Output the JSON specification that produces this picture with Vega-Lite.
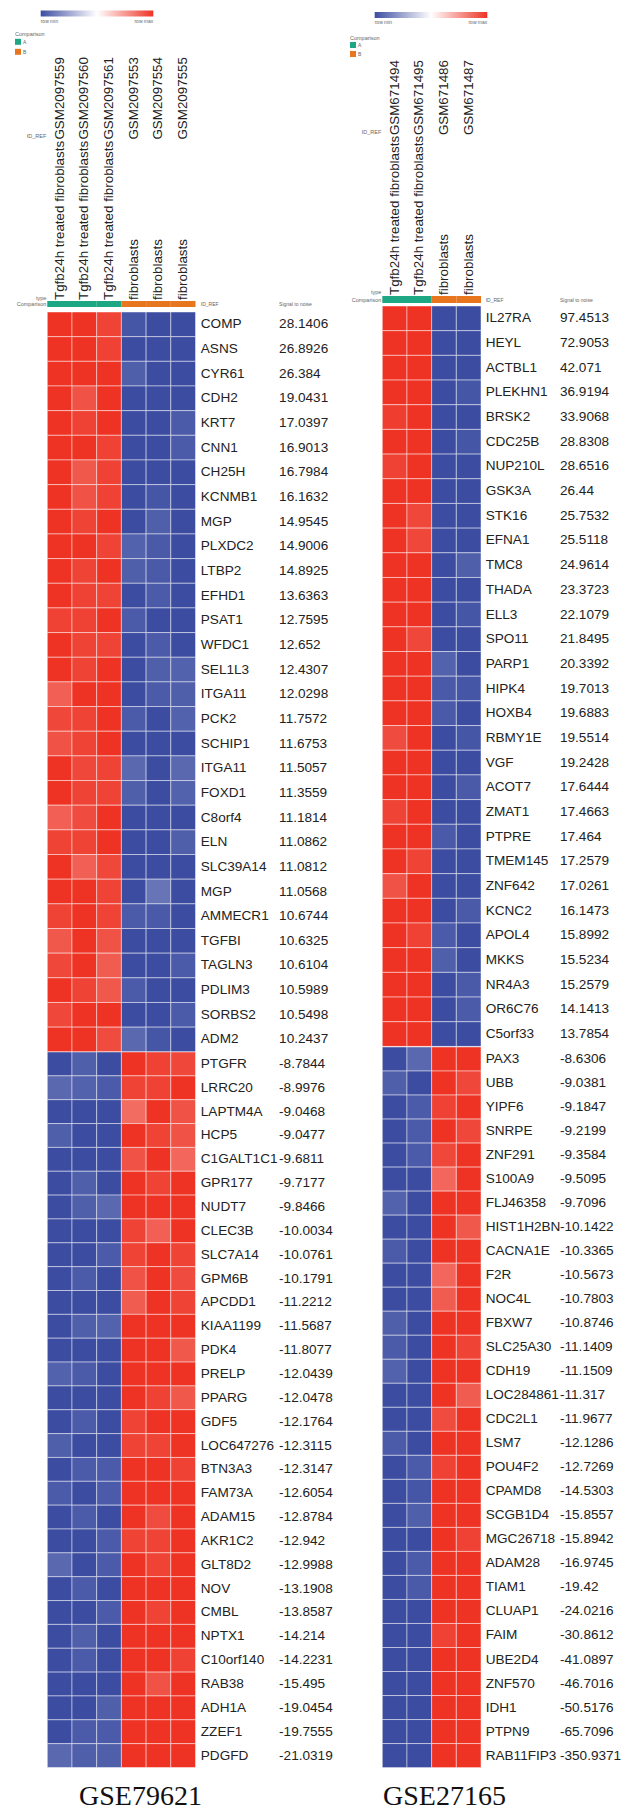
{
"$schema": "https://vega.github.io/schema/vega-lite/v6.json",
"background": "white",
"padding": {"left": 14.3, "top": 10, "right": 0, "bottom": 0},
"config": {"view": {"stroke": null}, "font": "Liberation Sans"},
"datasets": {
"lh": [
{"s":"GSM2097559","type":"Tgfb24h treated fibroblasts","grp":"A"},
{"s":"GSM2097560","type":"Tgfb24h treated fibroblasts","grp":"A"},
{"s":"GSM2097561","type":"Tgfb24h treated fibroblasts","grp":"A"},
{"s":"GSM2097553","type":"fibroblasts","grp":"B"},
{"s":"GSM2097554","type":"fibroblasts","grp":"B"},
{"s":"GSM2097555","type":"fibroblasts","grp":"B"}],
"rh": [
{"s":"GSM671494","type":"Tgfb24h treated fibroblasts","grp":"A"},
{"s":"GSM671495","type":"Tgfb24h treated fibroblasts","grp":"A"},
{"s":"GSM671486","type":"fibroblasts","grp":"B"},
{"s":"GSM671487","type":"fibroblasts","grp":"B"}],
"lg": [
{"r":1,"g":"COMP","sn":28.1406},{"r":2,"g":"ASNS","sn":26.8926},{"r":3,"g":"CYR61","sn":26.384},{"r":4,"g":"CDH2","sn":19.0431},{"r":5,"g":"KRT7","sn":17.0397},{"r":6,"g":"CNN1","sn":16.9013},{"r":7,"g":"CH25H","sn":16.7984},{"r":8,"g":"KCNMB1","sn":16.1632},{"r":9,"g":"MGP","sn":14.9545},{"r":10,"g":"PLXDC2","sn":14.9006},
{"r":11,"g":"LTBP2","sn":14.8925},{"r":12,"g":"EFHD1","sn":13.6363},{"r":13,"g":"PSAT1","sn":12.7595},{"r":14,"g":"WFDC1","sn":12.652},{"r":15,"g":"SEL1L3","sn":12.4307},{"r":16,"g":"ITGA11","sn":12.0298},{"r":17,"g":"PCK2","sn":11.7572},{"r":18,"g":"SCHIP1","sn":11.6753},{"r":19,"g":"ITGA11","sn":11.5057},{"r":20,"g":"FOXD1","sn":11.3559},
{"r":21,"g":"C8orf4","sn":11.1814},{"r":22,"g":"ELN","sn":11.0862},{"r":23,"g":"SLC39A14","sn":11.0812},{"r":24,"g":"MGP","sn":11.0568},{"r":25,"g":"AMMECR1","sn":10.6744},{"r":26,"g":"TGFBI","sn":10.6325},{"r":27,"g":"TAGLN3","sn":10.6104},{"r":28,"g":"PDLIM3","sn":10.5989},{"r":29,"g":"SORBS2","sn":10.5498},{"r":30,"g":"ADM2","sn":10.2437},
{"r":31,"g":"PTGFR","sn":-8.7844},{"r":32,"g":"LRRC20","sn":-8.9976},{"r":33,"g":"LAPTM4A","sn":-9.0468},{"r":34,"g":"HCP5","sn":-9.0477},{"r":35,"g":"C1GALT1C1","sn":-9.6811},{"r":36,"g":"GPR177","sn":-9.7177},{"r":37,"g":"NUDT7","sn":-9.8466},{"r":38,"g":"CLEC3B","sn":-10.0034},{"r":39,"g":"SLC7A14","sn":-10.0761},{"r":40,"g":"GPM6B","sn":-10.1791},
{"r":41,"g":"APCDD1","sn":-11.2212},{"r":42,"g":"KIAA1199","sn":-11.5687},{"r":43,"g":"PDK4","sn":-11.8077},{"r":44,"g":"PRELP","sn":-12.0439},{"r":45,"g":"PPARG","sn":-12.0478},{"r":46,"g":"GDF5","sn":-12.1764},{"r":47,"g":"LOC647276","sn":-12.3115},{"r":48,"g":"BTN3A3","sn":-12.3147},{"r":49,"g":"FAM73A","sn":-12.6054},{"r":50,"g":"ADAM15","sn":-12.8784},
{"r":51,"g":"AKR1C2","sn":-12.942},{"r":52,"g":"GLT8D2","sn":-12.9988},{"r":53,"g":"NOV","sn":-13.1908},{"r":54,"g":"CMBL","sn":-13.8587},{"r":55,"g":"NPTX1","sn":-14.214},{"r":56,"g":"C10orf140","sn":-14.2231},{"r":57,"g":"RAB38","sn":-15.495},{"r":58,"g":"ADH1A","sn":-19.0454},{"r":59,"g":"ZZEF1","sn":-19.7555},{"r":60,"g":"PDGFD","sn":-21.0319}],
"rg": [
{"r":1,"g":"IL27RA","sn":97.4513},{"r":2,"g":"HEYL","sn":72.9053},{"r":3,"g":"ACTBL1","sn":42.071},{"r":4,"g":"PLEKHN1","sn":36.9194},{"r":5,"g":"BRSK2","sn":33.9068},{"r":6,"g":"CDC25B","sn":28.8308},{"r":7,"g":"NUP210L","sn":28.6516},{"r":8,"g":"GSK3A","sn":26.44},{"r":9,"g":"STK16","sn":25.7532},{"r":10,"g":"EFNA1","sn":25.5118},
{"r":11,"g":"TMC8","sn":24.9614},{"r":12,"g":"THADA","sn":23.3723},{"r":13,"g":"ELL3","sn":22.1079},{"r":14,"g":"SPO11","sn":21.8495},{"r":15,"g":"PARP1","sn":20.3392},{"r":16,"g":"HIPK4","sn":19.7013},{"r":17,"g":"HOXB4","sn":19.6883},{"r":18,"g":"RBMY1E","sn":19.5514},{"r":19,"g":"VGF","sn":19.2428},{"r":20,"g":"ACOT7","sn":17.6444},
{"r":21,"g":"ZMAT1","sn":17.4663},{"r":22,"g":"PTPRE","sn":17.464},{"r":23,"g":"TMEM145","sn":17.2579},{"r":24,"g":"ZNF642","sn":17.0261},{"r":25,"g":"KCNC2","sn":16.1473},{"r":26,"g":"APOL4","sn":15.8992},{"r":27,"g":"MKKS","sn":15.5234},{"r":28,"g":"NR4A3","sn":15.2579},{"r":29,"g":"OR6C76","sn":14.1413},{"r":30,"g":"C5orf33","sn":13.7854},
{"r":31,"g":"PAX3","sn":-8.6306},{"r":32,"g":"UBB","sn":-9.0381},{"r":33,"g":"YIPF6","sn":-9.1847},{"r":34,"g":"SNRPE","sn":-9.2199},{"r":35,"g":"ZNF291","sn":-9.3584},{"r":36,"g":"S100A9","sn":-9.5095},{"r":37,"g":"FLJ46358","sn":-9.7096},{"r":38,"g":"HIST1H2BN","sn":-10.1422},{"r":39,"g":"CACNA1E","sn":-10.3365},{"r":40,"g":"F2R","sn":-10.5673},
{"r":41,"g":"NOC4L","sn":-10.7803},{"r":42,"g":"FBXW7","sn":-10.8746},{"r":43,"g":"SLC25A30","sn":-11.1409},{"r":44,"g":"CDH19","sn":-11.1509},{"r":45,"g":"LOC284861","sn":-11.317},{"r":46,"g":"CDC2L1","sn":-11.9677},{"r":47,"g":"LSM7","sn":-12.1286},{"r":48,"g":"POU4F2","sn":-12.7269},{"r":49,"g":"CPAMD8","sn":-14.5303},{"r":50,"g":"SCGB1D4","sn":-15.8557},
{"r":51,"g":"MGC26718","sn":-15.8942},{"r":52,"g":"ADAM28","sn":-16.9745},{"r":53,"g":"TIAM1","sn":-19.42},{"r":54,"g":"CLUAP1","sn":-24.0216},{"r":55,"g":"FAIM","sn":-30.8612},{"r":56,"g":"UBE2D4","sn":-41.0897},{"r":57,"g":"ZNF570","sn":-46.7016},{"r":58,"g":"IDH1","sn":-50.5176},{"r":59,"g":"PTPN9","sn":-65.7096},{"r":60,"g":"RAB11FIP3","sn":-350.9371}],
"lc": [
{"r":1,"s":"GSM2097559","v":1},{"r":1,"s":"GSM2097560","v":1},{"r":1,"s":"GSM2097561","v":0.92},{"r":1,"s":"GSM2097553","v":-0.95},{"r":1,"s":"GSM2097554","v":-1},{"r":1,"s":"GSM2097555","v":-1},
{"r":2,"s":"GSM2097559","v":1},{"r":2,"s":"GSM2097560","v":1},{"r":2,"s":"GSM2097561","v":0.93},{"r":2,"s":"GSM2097553","v":-1},{"r":2,"s":"GSM2097554","v":-1},{"r":2,"s":"GSM2097555","v":-1},
{"r":3,"s":"GSM2097559","v":1},{"r":3,"s":"GSM2097560","v":1},{"r":3,"s":"GSM2097561","v":1},{"r":3,"s":"GSM2097553","v":-0.9},{"r":3,"s":"GSM2097554","v":-1},{"r":3,"s":"GSM2097555","v":-1},
{"r":4,"s":"GSM2097559","v":1},{"r":4,"s":"GSM2097560","v":0.85},{"r":4,"s":"GSM2097561","v":1},{"r":4,"s":"GSM2097553","v":-1},{"r":4,"s":"GSM2097554","v":-1},{"r":4,"s":"GSM2097555","v":-1},
{"r":5,"s":"GSM2097559","v":1},{"r":5,"s":"GSM2097560","v":0.93},{"r":5,"s":"GSM2097561","v":1},{"r":5,"s":"GSM2097553","v":-1},{"r":5,"s":"GSM2097554","v":-1},{"r":5,"s":"GSM2097555","v":-0.92},
{"r":6,"s":"GSM2097559","v":1},{"r":6,"s":"GSM2097560","v":1},{"r":6,"s":"GSM2097561","v":0.93},{"r":6,"s":"GSM2097553","v":-1},{"r":6,"s":"GSM2097554","v":-1},{"r":6,"s":"GSM2097555","v":-0.92},
{"r":7,"s":"GSM2097559","v":1},{"r":7,"s":"GSM2097560","v":0.82},{"r":7,"s":"GSM2097561","v":0.93},{"r":7,"s":"GSM2097553","v":-1},{"r":7,"s":"GSM2097554","v":-1},{"r":7,"s":"GSM2097555","v":-1},
{"r":8,"s":"GSM2097559","v":1},{"r":8,"s":"GSM2097560","v":0.85},{"r":8,"s":"GSM2097561","v":0.93},{"r":8,"s":"GSM2097553","v":-1},{"r":8,"s":"GSM2097554","v":-0.95},{"r":8,"s":"GSM2097555","v":-1},
{"r":9,"s":"GSM2097559","v":1},{"r":9,"s":"GSM2097560","v":0.92},{"r":9,"s":"GSM2097561","v":1},{"r":9,"s":"GSM2097553","v":-1},{"r":9,"s":"GSM2097554","v":-0.9},{"r":9,"s":"GSM2097555","v":-1},
{"r":10,"s":"GSM2097559","v":1},{"r":10,"s":"GSM2097560","v":1},{"r":10,"s":"GSM2097561","v":0.92},{"r":10,"s":"GSM2097553","v":-0.88},{"r":10,"s":"GSM2097554","v":-0.93},{"r":10,"s":"GSM2097555","v":-1},
{"r":11,"s":"GSM2097559","v":1},{"r":11,"s":"GSM2097560","v":0.92},{"r":11,"s":"GSM2097561","v":1},{"r":11,"s":"GSM2097553","v":-0.9},{"r":11,"s":"GSM2097554","v":-0.93},{"r":11,"s":"GSM2097555","v":-1},
{"r":12,"s":"GSM2097559","v":1},{"r":12,"s":"GSM2097560","v":0.93},{"r":12,"s":"GSM2097561","v":0.92},{"r":12,"s":"GSM2097553","v":-1},{"r":12,"s":"GSM2097554","v":-0.92},{"r":12,"s":"GSM2097555","v":-1},
{"r":13,"s":"GSM2097559","v":0.93},{"r":13,"s":"GSM2097560","v":0.93},{"r":13,"s":"GSM2097561","v":1},{"r":13,"s":"GSM2097553","v":-0.92},{"r":13,"s":"GSM2097554","v":-1},{"r":13,"s":"GSM2097555","v":-1},
{"r":14,"s":"GSM2097559","v":1},{"r":14,"s":"GSM2097560","v":0.92},{"r":14,"s":"GSM2097561","v":0.92},{"r":14,"s":"GSM2097553","v":-1},{"r":14,"s":"GSM2097554","v":-0.92},{"r":14,"s":"GSM2097555","v":-1},
{"r":15,"s":"GSM2097559","v":1},{"r":15,"s":"GSM2097560","v":0.92},{"r":15,"s":"GSM2097561","v":1},{"r":15,"s":"GSM2097553","v":-1},{"r":15,"s":"GSM2097554","v":-0.9},{"r":15,"s":"GSM2097555","v":-0.88},
{"r":16,"s":"GSM2097559","v":0.78},{"r":16,"s":"GSM2097560","v":1},{"r":16,"s":"GSM2097561","v":1},{"r":16,"s":"GSM2097553","v":-1},{"r":16,"s":"GSM2097554","v":-0.92},{"r":16,"s":"GSM2097555","v":-0.9},
{"r":17,"s":"GSM2097559","v":0.9},{"r":17,"s":"GSM2097560","v":0.92},{"r":17,"s":"GSM2097561","v":1},{"r":17,"s":"GSM2097553","v":-0.92},{"r":17,"s":"GSM2097554","v":-1},{"r":17,"s":"GSM2097555","v":-0.88},
{"r":18,"s":"GSM2097559","v":0.85},{"r":18,"s":"GSM2097560","v":0.92},{"r":18,"s":"GSM2097561","v":1},{"r":18,"s":"GSM2097553","v":-1},{"r":18,"s":"GSM2097554","v":-1},{"r":18,"s":"GSM2097555","v":-1},
{"r":19,"s":"GSM2097559","v":1},{"r":19,"s":"GSM2097560","v":0.9},{"r":19,"s":"GSM2097561","v":0.92},{"r":19,"s":"GSM2097553","v":-0.85},{"r":19,"s":"GSM2097554","v":-1},{"r":19,"s":"GSM2097555","v":-0.85},
{"r":20,"s":"GSM2097559","v":1},{"r":20,"s":"GSM2097560","v":0.92},{"r":20,"s":"GSM2097561","v":0.92},{"r":20,"s":"GSM2097553","v":-0.9},{"r":20,"s":"GSM2097554","v":-1},{"r":20,"s":"GSM2097555","v":-0.88},
{"r":21,"s":"GSM2097559","v":0.78},{"r":21,"s":"GSM2097560","v":0.88},{"r":21,"s":"GSM2097561","v":1},{"r":21,"s":"GSM2097553","v":-1},{"r":21,"s":"GSM2097554","v":-1},{"r":21,"s":"GSM2097555","v":-1},
{"r":22,"s":"GSM2097559","v":0.92},{"r":22,"s":"GSM2097560","v":0.92},{"r":22,"s":"GSM2097561","v":1},{"r":22,"s":"GSM2097553","v":-1},{"r":22,"s":"GSM2097554","v":-1},{"r":22,"s":"GSM2097555","v":-0.9},
{"r":23,"s":"GSM2097559","v":1},{"r":23,"s":"GSM2097560","v":0.78},{"r":23,"s":"GSM2097561","v":0.9},{"r":23,"s":"GSM2097553","v":-1},{"r":23,"s":"GSM2097554","v":-1},{"r":23,"s":"GSM2097555","v":-1},
{"r":24,"s":"GSM2097559","v":1},{"r":24,"s":"GSM2097560","v":1},{"r":24,"s":"GSM2097561","v":0.92},{"r":24,"s":"GSM2097553","v":-1},{"r":24,"s":"GSM2097554","v":-0.78},{"r":24,"s":"GSM2097555","v":-1},
{"r":25,"s":"GSM2097559","v":0.92},{"r":25,"s":"GSM2097560","v":1},{"r":25,"s":"GSM2097561","v":0.92},{"r":25,"s":"GSM2097553","v":-0.92},{"r":25,"s":"GSM2097554","v":-0.93},{"r":25,"s":"GSM2097555","v":-1},
{"r":26,"s":"GSM2097559","v":0.82},{"r":26,"s":"GSM2097560","v":1},{"r":26,"s":"GSM2097561","v":0.85},{"r":26,"s":"GSM2097553","v":-1},{"r":26,"s":"GSM2097554","v":-1},{"r":26,"s":"GSM2097555","v":-1},
{"r":27,"s":"GSM2097559","v":0.9},{"r":27,"s":"GSM2097560","v":1},{"r":27,"s":"GSM2097561","v":0.8},{"r":27,"s":"GSM2097553","v":-1},{"r":27,"s":"GSM2097554","v":-1},{"r":27,"s":"GSM2097555","v":-0.92},
{"r":28,"s":"GSM2097559","v":1},{"r":28,"s":"GSM2097560","v":0.92},{"r":28,"s":"GSM2097561","v":0.82},{"r":28,"s":"GSM2097553","v":-0.92},{"r":28,"s":"GSM2097554","v":-1},{"r":28,"s":"GSM2097555","v":-1},
{"r":29,"s":"GSM2097559","v":0.9},{"r":29,"s":"GSM2097560","v":1},{"r":29,"s":"GSM2097561","v":1},{"r":29,"s":"GSM2097553","v":-1},{"r":29,"s":"GSM2097554","v":-1},{"r":29,"s":"GSM2097555","v":-0.92},
{"r":30,"s":"GSM2097559","v":1},{"r":30,"s":"GSM2097560","v":1},{"r":30,"s":"GSM2097561","v":0.88},{"r":30,"s":"GSM2097553","v":-0.85},{"r":30,"s":"GSM2097554","v":-0.95},{"r":30,"s":"GSM2097555","v":-1},
{"r":31,"s":"GSM2097559","v":-1},{"r":31,"s":"GSM2097560","v":-0.9},{"r":31,"s":"GSM2097561","v":-1},{"r":31,"s":"GSM2097553","v":1},{"r":31,"s":"GSM2097554","v":0.93},{"r":31,"s":"GSM2097555","v":0.9},
{"r":32,"s":"GSM2097559","v":-0.85},{"r":32,"s":"GSM2097560","v":-0.88},{"r":32,"s":"GSM2097561","v":-0.92},{"r":32,"s":"GSM2097553","v":0.92},{"r":32,"s":"GSM2097554","v":0.93},{"r":32,"s":"GSM2097555","v":1},
{"r":33,"s":"GSM2097559","v":-1},{"r":33,"s":"GSM2097560","v":-1},{"r":33,"s":"GSM2097561","v":-1},{"r":33,"s":"GSM2097553","v":0.72},{"r":33,"s":"GSM2097554","v":1},{"r":33,"s":"GSM2097555","v":0.85},
{"r":34,"s":"GSM2097559","v":-0.9},{"r":34,"s":"GSM2097560","v":-1},{"r":34,"s":"GSM2097561","v":-1},{"r":34,"s":"GSM2097553","v":1},{"r":34,"s":"GSM2097554","v":0.92},{"r":34,"s":"GSM2097555","v":0.85},
{"r":35,"s":"GSM2097559","v":-1},{"r":35,"s":"GSM2097560","v":-1},{"r":35,"s":"GSM2097561","v":-1},{"r":35,"s":"GSM2097553","v":0.85},{"r":35,"s":"GSM2097554","v":1},{"r":35,"s":"GSM2097555","v":0.75},
{"r":36,"s":"GSM2097559","v":-1},{"r":36,"s":"GSM2097560","v":-0.9},{"r":36,"s":"GSM2097561","v":-1},{"r":36,"s":"GSM2097553","v":1},{"r":36,"s":"GSM2097554","v":0.92},{"r":36,"s":"GSM2097555","v":1},
{"r":37,"s":"GSM2097559","v":-1},{"r":37,"s":"GSM2097560","v":-0.9},{"r":37,"s":"GSM2097561","v":-0.85},{"r":37,"s":"GSM2097553","v":1},{"r":37,"s":"GSM2097554","v":1},{"r":37,"s":"GSM2097555","v":1},
{"r":38,"s":"GSM2097559","v":-1},{"r":38,"s":"GSM2097560","v":-1},{"r":38,"s":"GSM2097561","v":-1},{"r":38,"s":"GSM2097553","v":0.92},{"r":38,"s":"GSM2097554","v":0.78},{"r":38,"s":"GSM2097555","v":1},
{"r":39,"s":"GSM2097559","v":-1},{"r":39,"s":"GSM2097560","v":-1},{"r":39,"s":"GSM2097561","v":-0.92},{"r":39,"s":"GSM2097553","v":0.92},{"r":39,"s":"GSM2097554","v":1},{"r":39,"s":"GSM2097555","v":0.92},
{"r":40,"s":"GSM2097559","v":-1},{"r":40,"s":"GSM2097560","v":-0.92},{"r":40,"s":"GSM2097561","v":-1},{"r":40,"s":"GSM2097553","v":0.85},{"r":40,"s":"GSM2097554","v":1},{"r":40,"s":"GSM2097555","v":0.88},
{"r":41,"s":"GSM2097559","v":-1},{"r":41,"s":"GSM2097560","v":-1},{"r":41,"s":"GSM2097561","v":-1},{"r":41,"s":"GSM2097553","v":0.8},{"r":41,"s":"GSM2097554","v":1},{"r":41,"s":"GSM2097555","v":0.92},
{"r":42,"s":"GSM2097559","v":-1},{"r":42,"s":"GSM2097560","v":-0.9},{"r":42,"s":"GSM2097561","v":-0.88},{"r":42,"s":"GSM2097553","v":1},{"r":42,"s":"GSM2097554","v":1},{"r":42,"s":"GSM2097555","v":1},
{"r":43,"s":"GSM2097559","v":-1},{"r":43,"s":"GSM2097560","v":-1},{"r":43,"s":"GSM2097561","v":-1},{"r":43,"s":"GSM2097553","v":1},{"r":43,"s":"GSM2097554","v":1},{"r":43,"s":"GSM2097555","v":0.82},
{"r":44,"s":"GSM2097559","v":-0.88},{"r":44,"s":"GSM2097560","v":-0.92},{"r":44,"s":"GSM2097561","v":-1},{"r":44,"s":"GSM2097553","v":1},{"r":44,"s":"GSM2097554","v":1},{"r":44,"s":"GSM2097555","v":1},
{"r":45,"s":"GSM2097559","v":-1},{"r":45,"s":"GSM2097560","v":-1},{"r":45,"s":"GSM2097561","v":-1},{"r":45,"s":"GSM2097553","v":1},{"r":45,"s":"GSM2097554","v":0.93},{"r":45,"s":"GSM2097555","v":0.82},
{"r":46,"s":"GSM2097559","v":-1},{"r":46,"s":"GSM2097560","v":-0.92},{"r":46,"s":"GSM2097561","v":-1},{"r":46,"s":"GSM2097553","v":0.92},{"r":46,"s":"GSM2097554","v":1},{"r":46,"s":"GSM2097555","v":1},
{"r":47,"s":"GSM2097559","v":-0.9},{"r":47,"s":"GSM2097560","v":-1},{"r":47,"s":"GSM2097561","v":-1},{"r":47,"s":"GSM2097553","v":0.92},{"r":47,"s":"GSM2097554","v":0.92},{"r":47,"s":"GSM2097555","v":1},
{"r":48,"s":"GSM2097559","v":-1},{"r":48,"s":"GSM2097560","v":-0.92},{"r":48,"s":"GSM2097561","v":-0.92},{"r":48,"s":"GSM2097553","v":1},{"r":48,"s":"GSM2097554","v":1},{"r":48,"s":"GSM2097555","v":0.93},
{"r":49,"s":"GSM2097559","v":-0.92},{"r":49,"s":"GSM2097560","v":-1},{"r":49,"s":"GSM2097561","v":-0.92},{"r":49,"s":"GSM2097553","v":1},{"r":49,"s":"GSM2097554","v":1},{"r":49,"s":"GSM2097555","v":1},
{"r":50,"s":"GSM2097559","v":-1},{"r":50,"s":"GSM2097560","v":-0.92},{"r":50,"s":"GSM2097561","v":-1},{"r":50,"s":"GSM2097553","v":1},{"r":50,"s":"GSM2097554","v":0.88},{"r":50,"s":"GSM2097555","v":1},
{"r":51,"s":"GSM2097559","v":-1},{"r":51,"s":"GSM2097560","v":-1},{"r":51,"s":"GSM2097561","v":-0.92},{"r":51,"s":"GSM2097553","v":0.92},{"r":51,"s":"GSM2097554","v":0.92},{"r":51,"s":"GSM2097555","v":1},
{"r":52,"s":"GSM2097559","v":-0.85},{"r":52,"s":"GSM2097560","v":-1},{"r":52,"s":"GSM2097561","v":-0.92},{"r":52,"s":"GSM2097553","v":1},{"r":52,"s":"GSM2097554","v":0.92},{"r":52,"s":"GSM2097555","v":1},
{"r":53,"s":"GSM2097559","v":-1},{"r":53,"s":"GSM2097560","v":-0.92},{"r":53,"s":"GSM2097561","v":-1},{"r":53,"s":"GSM2097553","v":1},{"r":53,"s":"GSM2097554","v":1},{"r":53,"s":"GSM2097555","v":1},
{"r":54,"s":"GSM2097559","v":-1},{"r":54,"s":"GSM2097560","v":-1},{"r":54,"s":"GSM2097561","v":-0.92},{"r":54,"s":"GSM2097553","v":1},{"r":54,"s":"GSM2097554","v":0.92},{"r":54,"s":"GSM2097555","v":1},
{"r":55,"s":"GSM2097559","v":-1},{"r":55,"s":"GSM2097560","v":-0.9},{"r":55,"s":"GSM2097561","v":-1},{"r":55,"s":"GSM2097553","v":1},{"r":55,"s":"GSM2097554","v":1},{"r":55,"s":"GSM2097555","v":1},
{"r":56,"s":"GSM2097559","v":-1},{"r":56,"s":"GSM2097560","v":-0.92},{"r":56,"s":"GSM2097561","v":-1},{"r":56,"s":"GSM2097553","v":1},{"r":56,"s":"GSM2097554","v":1},{"r":56,"s":"GSM2097555","v":0.93},
{"r":57,"s":"GSM2097559","v":-1},{"r":57,"s":"GSM2097560","v":-1},{"r":57,"s":"GSM2097561","v":-1},{"r":57,"s":"GSM2097553","v":1},{"r":57,"s":"GSM2097554","v":0.85},{"r":57,"s":"GSM2097555","v":1},
{"r":58,"s":"GSM2097559","v":-1},{"r":58,"s":"GSM2097560","v":-1},{"r":58,"s":"GSM2097561","v":-0.9},{"r":58,"s":"GSM2097553","v":1},{"r":58,"s":"GSM2097554","v":1},{"r":58,"s":"GSM2097555","v":1},
{"r":59,"s":"GSM2097559","v":-1},{"r":59,"s":"GSM2097560","v":-0.92},{"r":59,"s":"GSM2097561","v":-0.92},{"r":59,"s":"GSM2097553","v":1},{"r":59,"s":"GSM2097554","v":1},{"r":59,"s":"GSM2097555","v":1},
{"r":60,"s":"GSM2097559","v":-0.85},{"r":60,"s":"GSM2097560","v":-0.9},{"r":60,"s":"GSM2097561","v":-0.9},{"r":60,"s":"GSM2097553","v":1},{"r":60,"s":"GSM2097554","v":1},{"r":60,"s":"GSM2097555","v":1}],
"rc": [
{"r":1,"s":"GSM671494","v":1},{"r":1,"s":"GSM671495","v":1},{"r":1,"s":"GSM671486","v":-1},{"r":1,"s":"GSM671487","v":-1},
{"r":2,"s":"GSM671494","v":1},{"r":2,"s":"GSM671495","v":1},{"r":2,"s":"GSM671486","v":-1},{"r":2,"s":"GSM671487","v":-1},
{"r":3,"s":"GSM671494","v":1},{"r":3,"s":"GSM671495","v":1},{"r":3,"s":"GSM671486","v":-1},{"r":3,"s":"GSM671487","v":-1},
{"r":4,"s":"GSM671494","v":1},{"r":4,"s":"GSM671495","v":1},{"r":4,"s":"GSM671486","v":-1},{"r":4,"s":"GSM671487","v":-0.95},
{"r":5,"s":"GSM671494","v":0.95},{"r":5,"s":"GSM671495","v":1},{"r":5,"s":"GSM671486","v":-1},{"r":5,"s":"GSM671487","v":-1},
{"r":6,"s":"GSM671494","v":1},{"r":6,"s":"GSM671495","v":1},{"r":6,"s":"GSM671486","v":-1},{"r":6,"s":"GSM671487","v":-0.95},
{"r":7,"s":"GSM671494","v":0.93},{"r":7,"s":"GSM671495","v":1},{"r":7,"s":"GSM671486","v":-1},{"r":7,"s":"GSM671487","v":-1},
{"r":8,"s":"GSM671494","v":1},{"r":8,"s":"GSM671495","v":1},{"r":8,"s":"GSM671486","v":-1},{"r":8,"s":"GSM671487","v":-1},
{"r":9,"s":"GSM671494","v":1},{"r":9,"s":"GSM671495","v":0.9},{"r":9,"s":"GSM671486","v":-1},{"r":9,"s":"GSM671487","v":-1},
{"r":10,"s":"GSM671494","v":1},{"r":10,"s":"GSM671495","v":0.9},{"r":10,"s":"GSM671486","v":-1},{"r":10,"s":"GSM671487","v":-1},
{"r":11,"s":"GSM671494","v":1},{"r":11,"s":"GSM671495","v":1},{"r":11,"s":"GSM671486","v":-1},{"r":11,"s":"GSM671487","v":-0.9},
{"r":12,"s":"GSM671494","v":1},{"r":12,"s":"GSM671495","v":1},{"r":12,"s":"GSM671486","v":-1},{"r":12,"s":"GSM671487","v":-1},
{"r":13,"s":"GSM671494","v":1},{"r":13,"s":"GSM671495","v":1},{"r":13,"s":"GSM671486","v":-1},{"r":13,"s":"GSM671487","v":-0.95},
{"r":14,"s":"GSM671494","v":1},{"r":14,"s":"GSM671495","v":0.9},{"r":14,"s":"GSM671486","v":-1},{"r":14,"s":"GSM671487","v":-1},
{"r":15,"s":"GSM671494","v":1},{"r":15,"s":"GSM671495","v":1},{"r":15,"s":"GSM671486","v":-0.88},{"r":15,"s":"GSM671487","v":-1},
{"r":16,"s":"GSM671494","v":1},{"r":16,"s":"GSM671495","v":1},{"r":16,"s":"GSM671486","v":-0.93},{"r":16,"s":"GSM671487","v":-0.95},
{"r":17,"s":"GSM671494","v":1},{"r":17,"s":"GSM671495","v":1},{"r":17,"s":"GSM671486","v":-0.93},{"r":17,"s":"GSM671487","v":-1},
{"r":18,"s":"GSM671494","v":0.88},{"r":18,"s":"GSM671495","v":1},{"r":18,"s":"GSM671486","v":-1},{"r":18,"s":"GSM671487","v":-0.95},
{"r":19,"s":"GSM671494","v":1},{"r":19,"s":"GSM671495","v":1},{"r":19,"s":"GSM671486","v":-1},{"r":19,"s":"GSM671487","v":-1},
{"r":20,"s":"GSM671494","v":1},{"r":20,"s":"GSM671495","v":1},{"r":20,"s":"GSM671486","v":-1},{"r":20,"s":"GSM671487","v":-0.93},
{"r":21,"s":"GSM671494","v":0.92},{"r":21,"s":"GSM671495","v":1},{"r":21,"s":"GSM671486","v":-1},{"r":21,"s":"GSM671487","v":-1},
{"r":22,"s":"GSM671494","v":1},{"r":22,"s":"GSM671495","v":1},{"r":22,"s":"GSM671486","v":-0.93},{"r":22,"s":"GSM671487","v":-1},
{"r":23,"s":"GSM671494","v":1},{"r":23,"s":"GSM671495","v":0.92},{"r":23,"s":"GSM671486","v":-1},{"r":23,"s":"GSM671487","v":-1},
{"r":24,"s":"GSM671494","v":0.85},{"r":24,"s":"GSM671495","v":1},{"r":24,"s":"GSM671486","v":-1},{"r":24,"s":"GSM671487","v":-1},
{"r":25,"s":"GSM671494","v":1},{"r":25,"s":"GSM671495","v":1},{"r":25,"s":"GSM671486","v":-1},{"r":25,"s":"GSM671487","v":-0.93},
{"r":26,"s":"GSM671494","v":1},{"r":26,"s":"GSM671495","v":0.93},{"r":26,"s":"GSM671486","v":-0.92},{"r":26,"s":"GSM671487","v":-1},
{"r":27,"s":"GSM671494","v":1},{"r":27,"s":"GSM671495","v":1},{"r":27,"s":"GSM671486","v":-0.9},{"r":27,"s":"GSM671487","v":-1},
{"r":28,"s":"GSM671494","v":1},{"r":28,"s":"GSM671495","v":1},{"r":28,"s":"GSM671486","v":-1},{"r":28,"s":"GSM671487","v":-0.93},
{"r":29,"s":"GSM671494","v":1},{"r":29,"s":"GSM671495","v":1},{"r":29,"s":"GSM671486","v":-1},{"r":29,"s":"GSM671487","v":-0.92},
{"r":30,"s":"GSM671494","v":1},{"r":30,"s":"GSM671495","v":1},{"r":30,"s":"GSM671486","v":-1},{"r":30,"s":"GSM671487","v":-1},
{"r":31,"s":"GSM671494","v":-1},{"r":31,"s":"GSM671495","v":-0.85},{"r":31,"s":"GSM671486","v":1},{"r":31,"s":"GSM671487","v":1},
{"r":32,"s":"GSM671494","v":-0.9},{"r":32,"s":"GSM671495","v":-1},{"r":32,"s":"GSM671486","v":1},{"r":32,"s":"GSM671487","v":0.9},
{"r":33,"s":"GSM671494","v":-1},{"r":33,"s":"GSM671495","v":-0.92},{"r":33,"s":"GSM671486","v":0.93},{"r":33,"s":"GSM671487","v":1},
{"r":34,"s":"GSM671494","v":-1},{"r":34,"s":"GSM671495","v":-0.92},{"r":34,"s":"GSM671486","v":1},{"r":34,"s":"GSM671487","v":0.9},
{"r":35,"s":"GSM671494","v":-1},{"r":35,"s":"GSM671495","v":-0.92},{"r":35,"s":"GSM671486","v":0.9},{"r":35,"s":"GSM671487","v":1},
{"r":36,"s":"GSM671494","v":-1},{"r":36,"s":"GSM671495","v":-1},{"r":36,"s":"GSM671486","v":0.75},{"r":36,"s":"GSM671487","v":1},
{"r":37,"s":"GSM671494","v":-0.88},{"r":37,"s":"GSM671495","v":-1},{"r":37,"s":"GSM671486","v":1},{"r":37,"s":"GSM671487","v":1},
{"r":38,"s":"GSM671494","v":-1},{"r":38,"s":"GSM671495","v":-1},{"r":38,"s":"GSM671486","v":1},{"r":38,"s":"GSM671487","v":0.82},
{"r":39,"s":"GSM671494","v":-0.92},{"r":39,"s":"GSM671495","v":-1},{"r":39,"s":"GSM671486","v":1},{"r":39,"s":"GSM671487","v":1},
{"r":40,"s":"GSM671494","v":-1},{"r":40,"s":"GSM671495","v":-1},{"r":40,"s":"GSM671486","v":0.75},{"r":40,"s":"GSM671487","v":1},
{"r":41,"s":"GSM671494","v":-1},{"r":41,"s":"GSM671495","v":-1},{"r":41,"s":"GSM671486","v":0.8},{"r":41,"s":"GSM671487","v":1},
{"r":42,"s":"GSM671494","v":-0.9},{"r":42,"s":"GSM671495","v":-1},{"r":42,"s":"GSM671486","v":1},{"r":42,"s":"GSM671487","v":1},
{"r":43,"s":"GSM671494","v":-0.92},{"r":43,"s":"GSM671495","v":-1},{"r":43,"s":"GSM671486","v":1},{"r":43,"s":"GSM671487","v":0.92},
{"r":44,"s":"GSM671494","v":-0.88},{"r":44,"s":"GSM671495","v":-1},{"r":44,"s":"GSM671486","v":1},{"r":44,"s":"GSM671487","v":1},
{"r":45,"s":"GSM671494","v":-1},{"r":45,"s":"GSM671495","v":-1},{"r":45,"s":"GSM671486","v":1},{"r":45,"s":"GSM671487","v":0.8},
{"r":46,"s":"GSM671494","v":-1},{"r":46,"s":"GSM671495","v":-1},{"r":46,"s":"GSM671486","v":0.88},{"r":46,"s":"GSM671487","v":1},
{"r":47,"s":"GSM671494","v":-0.92},{"r":47,"s":"GSM671495","v":-1},{"r":47,"s":"GSM671486","v":1},{"r":47,"s":"GSM671487","v":1},
{"r":48,"s":"GSM671494","v":-1},{"r":48,"s":"GSM671495","v":-0.92},{"r":48,"s":"GSM671486","v":0.93},{"r":48,"s":"GSM671487","v":1},
{"r":49,"s":"GSM671494","v":-1},{"r":49,"s":"GSM671495","v":-0.95},{"r":49,"s":"GSM671486","v":1},{"r":49,"s":"GSM671487","v":1},
{"r":50,"s":"GSM671494","v":-1},{"r":50,"s":"GSM671495","v":-0.9},{"r":50,"s":"GSM671486","v":1},{"r":50,"s":"GSM671487","v":1},
{"r":51,"s":"GSM671494","v":-1},{"r":51,"s":"GSM671495","v":-1},{"r":51,"s":"GSM671486","v":1},{"r":51,"s":"GSM671487","v":0.93},
{"r":52,"s":"GSM671494","v":-1},{"r":52,"s":"GSM671495","v":-0.92},{"r":52,"s":"GSM671486","v":1},{"r":52,"s":"GSM671487","v":1},
{"r":53,"s":"GSM671494","v":-1},{"r":53,"s":"GSM671495","v":-0.93},{"r":53,"s":"GSM671486","v":1},{"r":53,"s":"GSM671487","v":1},
{"r":54,"s":"GSM671494","v":-1},{"r":54,"s":"GSM671495","v":-1},{"r":54,"s":"GSM671486","v":1},{"r":54,"s":"GSM671487","v":1},
{"r":55,"s":"GSM671494","v":-1},{"r":55,"s":"GSM671495","v":-1},{"r":55,"s":"GSM671486","v":0.93},{"r":55,"s":"GSM671487","v":1},
{"r":56,"s":"GSM671494","v":-1},{"r":56,"s":"GSM671495","v":-1},{"r":56,"s":"GSM671486","v":1},{"r":56,"s":"GSM671487","v":1},
{"r":57,"s":"GSM671494","v":-1},{"r":57,"s":"GSM671495","v":-1},{"r":57,"s":"GSM671486","v":1},{"r":57,"s":"GSM671487","v":1},
{"r":58,"s":"GSM671494","v":-1},{"r":58,"s":"GSM671495","v":-1},{"r":58,"s":"GSM671486","v":1},{"r":58,"s":"GSM671487","v":1},
{"r":59,"s":"GSM671494","v":-1},{"r":59,"s":"GSM671495","v":-1},{"r":59,"s":"GSM671486","v":1},{"r":59,"s":"GSM671487","v":1},
{"r":60,"s":"GSM671494","v":-1},{"r":60,"s":"GSM671495","v":-1},{"r":60,"s":"GSM671486","v":1},{"r":60,"s":"GSM671487","v":1}]
},
"hconcat": [
{
"vconcat": [
{
"width": 148.2, "height": 244,
"data": {"name": "lh"},
"encoding": {"x": {"field": "s", "type": "nominal", "scale": {"domain": ["GSM2097559","GSM2097560","GSM2097561","GSM2097553","GSM2097554","GSM2097555"], "paddingInner": 0, "paddingOuter": 0}, "axis": null}},
"layer": [
{"mark": {"type": "text", "angle": 270, "align": "right", "baseline": "middle", "fontSize": 13.4, "color": "#222"},
 "encoding": {"y": {"datum": 1, "type": "quantitative", "scale": {"domain": [0, 1], "nice": false, "zero": false}, "axis": {"title": null, "values": [0.68], "labelExpr": "'ID_REF'", "ticks": false, "domain": false, "grid": false, "labelFontSize": 5.5, "labelColor": "#666", "labelPadding": 1.5}}, "text": {"field": "s"}}},
{"mark": {"type": "text", "angle": 270, "align": "left", "baseline": "middle", "fontSize": 13.4, "color": "#222", "dx": 1},
 "encoding": {"y": {"datum": 0, "type": "quantitative"}, "text": {"field": "type"}}}
]
},
{
"width": 148.2, "height": 10.7,
"layer": [
{"data": {"name": "lh"}, "mark": {"type": "rect"},
 "encoding": {
  "x": {"field": "s", "type": "nominal", "scale": {"domain": ["GSM2097559","GSM2097560","GSM2097561","GSM2097553","GSM2097554","GSM2097555"], "paddingInner": 0, "paddingOuter": 0}, "axis": null},
  "y": {"datum": "Comparison", "type": "ordinal", "scale": {"domain": ["Comparison"], "paddingInner": 0, "paddingOuter": 0.3917, "align": 0}, "axis": {"title": "type", "titleAngle": 0, "titleAlign": "right", "titleBaseline": "bottom", "titleX": -1.5, "titleY": -1, "titleFontSize": 5.5, "titleFontWeight": "normal", "titleColor": "#666", "labelFontSize": 5.5, "labelColor": "#666", "labelPadding": 1.5, "ticks": false, "domain": false}},
  "fill": {"field": "grp", "type": "nominal", "scale": {"domain": ["A","B"], "range": ["#1DA783","#E8761F"]},
   "legend": {"orient": "none", "legendX": -32.3, "legendY": -268.7, "title": "Comparison", "titleFontSize": 5.5, "titleFontWeight": "normal", "titleColor": "#666", "titlePadding": 1, "labelFontSize": 5, "labelColor": "#666", "labelOffset": 2, "symbolType": "square", "symbolSize": 36, "symbolStrokeWidth": 0, "rowPadding": 4, "padding": 0}}
 }},
{"data": {"values": [{"t": "ID_REF"}]}, "mark": {"type": "text", "align": "left", "baseline": "middle", "dx": 5.3, "fontSize": 5, "color": "#666"},
 "encoding": {"x": {"value": "width"}, "y": {"datum": "Comparison", "type": "ordinal"}, "text": {"field": "t"}}},
{"data": {"values": [{"t": "Signal to noise"}]}, "mark": {"type": "text", "align": "left", "baseline": "middle", "dx": 83.6, "fontSize": 5, "color": "#666"},
 "encoding": {"x": {"value": "width"}, "y": {"datum": "Comparison", "type": "ordinal"}, "text": {"field": "t"}}}
]
},
{
"width": 148.2, "height": 739.8,
"layer": [
{"data": {"name": "lc"}, "transform": [{"filter": "datum.r <= 30"}],
 "mark": {"type": "rect", "stroke": "#ffffff", "strokeWidth": 1, "strokeOpacity": 0.45},
 "encoding": {
  "x": {"field": "s", "type": "nominal", "scale": {"domain": ["GSM2097559","GSM2097560","GSM2097561","GSM2097553","GSM2097554","GSM2097555"], "paddingInner": 0, "paddingOuter": 0}, "axis": null},
  "y": {"field": "r", "type": "ordinal", "scale": {"paddingInner": 0, "paddingOuter": 0}, "axis": null},
  "color": {"field": "v", "type": "quantitative", "scale": {"domain": [-1, 0, 1], "range": ["#3C4DA1", "#FFFFFF", "#EE3325"], "interpolate": "rgb"},
   "legend": {"orient": "none", "legendX": -6.6, "legendY": -301.4, "direction": "horizontal", "title": null, "gradientLength": 112.6, "gradientThickness": 6, "gradientStrokeWidth": 0, "values": [-1, 1], "labelExpr": "datum.value < 0 ? 'row min' : 'row max'", "labelFontSize": 5, "labelColor": "#666", "labelAlign": "center", "labelOffset": 2, "padding": 0}}
 }},
{"data": {"name": "lg"}, "transform": [{"filter": "datum.r <= 30"}],
 "mark": {"type": "text", "align": "left", "baseline": "middle", "dx": 5.3, "fontSize": 13.6, "color": "#222"},
 "encoding": {"x": {"value": "width"}, "y": {"field": "r", "type": "ordinal"}, "text": {"field": "g"}}},
{"data": {"name": "lg"}, "transform": [{"filter": "datum.r <= 30"}],
 "mark": {"type": "text", "align": "left", "baseline": "middle", "dx": 83.6, "fontSize": 13.6, "color": "#222"},
 "encoding": {"x": {"value": "width"}, "y": {"field": "r", "type": "ordinal"}, "text": {"field": "sn", "type": "nominal"}}}
]
},
{
"width": 148.2, "height": 715.5,
"layer": [
{"data": {"name": "lc"}, "transform": [{"filter": "datum.r > 30"}],
 "mark": {"type": "rect", "stroke": "#ffffff", "strokeWidth": 1, "strokeOpacity": 0.45},
 "encoding": {
  "x": {"field": "s", "type": "nominal", "scale": {"domain": ["GSM2097559","GSM2097560","GSM2097561","GSM2097553","GSM2097554","GSM2097555"], "paddingInner": 0, "paddingOuter": 0},
   "axis": {"orient": "bottom", "title": "GSE79621", "labels": false, "ticks": false, "domain": false, "titleFont": "Liberation Serif", "titleFontSize": 28, "titleFontWeight": "normal", "titleColor": "#111", "titleX": 92.7, "titleY": 37, "titleAlign": "center", "titleBaseline": "alphabetic"}},
  "y": {"field": "r", "type": "ordinal", "scale": {"paddingInner": 0, "paddingOuter": 0}, "axis": null},
  "color": {"field": "v", "type": "quantitative", "scale": {"domain": [-1, 0, 1], "range": ["#3C4DA1", "#FFFFFF", "#EE3325"], "interpolate": "rgb"}, "legend": null}
 }},
{"data": {"name": "lg"}, "transform": [{"filter": "datum.r > 30"}],
 "mark": {"type": "text", "align": "left", "baseline": "middle", "dx": 5.3, "fontSize": 13.6, "color": "#222"},
 "encoding": {"x": {"value": "width"}, "y": {"field": "r", "type": "ordinal"}, "text": {"field": "g"}}},
{"data": {"name": "lg"}, "transform": [{"filter": "datum.r > 30"}],
 "mark": {"type": "text", "align": "left", "baseline": "middle", "dx": 83.6, "fontSize": 13.6, "color": "#222"},
 "encoding": {"x": {"value": "width"}, "y": {"field": "r", "type": "ordinal"}, "text": {"field": "sn", "type": "nominal"}}}
]
}
],
"spacing": 0, "bounds": "flush",
"resolve": {"scale": {"x": "independent", "y": "independent", "color": "independent", "fill": "independent"}, "legend": {"color": "independent", "fill": "independent"}}
},
{
"vconcat": [
{
"width": 98.7, "height": 239,
"data": {"name": "rh"},
"encoding": {"x": {"field": "s", "type": "nominal", "scale": {"domain": ["GSM671494","GSM671495","GSM671486","GSM671487"], "paddingInner": 0, "paddingOuter": 0}, "axis": null}},
"layer": [
{"mark": {"type": "text", "angle": 270, "align": "right", "baseline": "middle", "fontSize": 13.4, "color": "#222", "dx": -3},
 "encoding": {"y": {"datum": 1, "type": "quantitative", "scale": {"domain": [0, 1], "nice": false, "zero": false}, "axis": {"title": null, "values": [0.69], "labelExpr": "'ID_REF'", "ticks": false, "domain": false, "grid": false, "labelFontSize": 5.5, "labelColor": "#666", "labelPadding": 1.5}}, "text": {"field": "s"}}},
{"mark": {"type": "text", "angle": 270, "align": "left", "baseline": "middle", "fontSize": 13.4, "color": "#222", "dx": 1},
 "encoding": {"y": {"datum": 0, "type": "quantitative"}, "text": {"field": "type"}}}
]
},
{
"width": 98.7, "height": 10,
"layer": [
{"data": {"name": "rh"}, "mark": {"type": "rect"},
 "encoding": {
  "x": {"field": "s", "type": "nominal", "scale": {"domain": ["GSM671494","GSM671495","GSM671486","GSM671487"], "paddingInner": 0, "paddingOuter": 0}, "axis": null},
  "y": {"datum": "Comparison", "type": "ordinal", "scale": {"domain": ["Comparison"], "paddingInner": 0, "paddingOuter": 0.2143, "align": 0}, "axis": {"title": "type", "titleAngle": 0, "titleAlign": "right", "titleBaseline": "bottom", "titleX": -1.5, "titleY": -2, "titleFontSize": 5.5, "titleFontWeight": "normal", "titleColor": "#666", "labelFontSize": 5.5, "labelColor": "#666", "labelPadding": 1.5, "ticks": false, "domain": false}},
  "fill": {"field": "grp", "type": "nominal", "scale": {"domain": ["A","B"], "range": ["#1DA783","#E8761F"]},
   "legend": {"orient": "none", "legendX": -32.3, "legendY": -260.5, "title": "Comparison", "titleFontSize": 5.5, "titleFontWeight": "normal", "titleColor": "#666", "titlePadding": 1, "labelFontSize": 5, "labelColor": "#666", "labelOffset": 2, "symbolType": "square", "symbolSize": 36, "symbolStrokeWidth": 0, "rowPadding": 3, "padding": 0}}
 }},
{"data": {"values": [{"t": "ID_REF"}]}, "mark": {"type": "text", "align": "left", "baseline": "middle", "dx": 4.7, "fontSize": 5, "color": "#666"},
 "encoding": {"x": {"value": "width"}, "y": {"datum": "Comparison", "type": "ordinal"}, "text": {"field": "t"}}},
{"data": {"values": [{"t": "Signal to noise"}]}, "mark": {"type": "text", "align": "left", "baseline": "middle", "dx": 79, "fontSize": 5, "color": "#666"},
 "encoding": {"x": {"value": "width"}, "y": {"datum": "Comparison", "type": "ordinal"}, "text": {"field": "t"}}}
]
},
{
"width": 98.7, "height": 740.4,
"layer": [
{"data": {"name": "rc"}, "transform": [{"filter": "datum.r <= 30"}],
 "mark": {"type": "rect", "stroke": "#ffffff", "strokeWidth": 1, "strokeOpacity": 0.45},
 "encoding": {
  "x": {"field": "s", "type": "nominal", "scale": {"domain": ["GSM671494","GSM671495","GSM671486","GSM671487"], "paddingInner": 0, "paddingOuter": 0}, "axis": null},
  "y": {"field": "r", "type": "ordinal", "scale": {"paddingInner": 0, "paddingOuter": 0}, "axis": null},
  "color": {"field": "v", "type": "quantitative", "scale": {"domain": [-1, 0, 1], "range": ["#3C4DA1", "#FFFFFF", "#EE3325"], "interpolate": "rgb"},
   "legend": {"orient": "none", "legendX": -7.6, "legendY": -294, "direction": "horizontal", "title": null, "gradientLength": 112.6, "gradientThickness": 6, "gradientStrokeWidth": 0, "values": [-1, 1], "labelExpr": "datum.value < 0 ? 'row min' : 'row max'", "labelFontSize": 5, "labelColor": "#666", "labelAlign": "center", "labelOffset": 2, "padding": 0}}
 }},
{"data": {"name": "rg"}, "transform": [{"filter": "datum.r <= 30"}],
 "mark": {"type": "text", "align": "left", "baseline": "middle", "dx": 4.7, "fontSize": 13.6, "color": "#222"},
 "encoding": {"x": {"value": "width"}, "y": {"field": "r", "type": "ordinal"}, "text": {"field": "g"}}},
{"data": {"name": "rg"}, "transform": [{"filter": "datum.r <= 30"}],
 "mark": {"type": "text", "align": "left", "baseline": "middle", "dx": 79, "fontSize": 13.6, "color": "#222"},
 "encoding": {"x": {"value": "width"}, "y": {"field": "r", "type": "ordinal"}, "text": {"field": "sn", "type": "nominal"}}}
]
},
{
"width": 98.7, "height": 720.6,
"layer": [
{"data": {"name": "rc"}, "transform": [{"filter": "datum.r > 30"}],
 "mark": {"type": "rect", "stroke": "#ffffff", "strokeWidth": 1, "strokeOpacity": 0.45},
 "encoding": {
  "x": {"field": "s", "type": "nominal", "scale": {"domain": ["GSM671494","GSM671495","GSM671486","GSM671487"], "paddingInner": 0, "paddingOuter": 0},
   "axis": {"orient": "bottom", "title": "GSE27165", "labels": false, "ticks": false, "domain": false, "titleFont": "Liberation Serif", "titleFontSize": 28, "titleFontWeight": "normal", "titleColor": "#111", "titleX": 61.7, "titleY": 37, "titleAlign": "center", "titleBaseline": "alphabetic"}},
  "y": {"field": "r", "type": "ordinal", "scale": {"paddingInner": 0, "paddingOuter": 0}, "axis": null},
  "color": {"field": "v", "type": "quantitative", "scale": {"domain": [-1, 0, 1], "range": ["#3C4DA1", "#FFFFFF", "#EE3325"], "interpolate": "rgb"}, "legend": null}
 }},
{"data": {"name": "rg"}, "transform": [{"filter": "datum.r > 30"}],
 "mark": {"type": "text", "align": "left", "baseline": "middle", "dx": 4.7, "fontSize": 13.6, "color": "#222"},
 "encoding": {"x": {"value": "width"}, "y": {"field": "r", "type": "ordinal"}, "text": {"field": "g"}}},
{"data": {"name": "rg"}, "transform": [{"filter": "datum.r > 30"}],
 "mark": {"type": "text", "align": "left", "baseline": "middle", "dx": 79, "fontSize": 13.6, "color": "#222"},
 "encoding": {"x": {"value": "width"}, "y": {"field": "r", "type": "ordinal"}, "text": {"field": "sn", "type": "nominal"}}}
]
}
],
"spacing": 0, "bounds": "flush",
"resolve": {"scale": {"x": "independent", "y": "independent", "color": "independent", "fill": "independent"}, "legend": {"color": "independent", "fill": "independent"}}
}
],
"spacing": 335, "bounds": "flush",
"resolve": {"scale": {"x": "independent", "y": "independent", "color": "independent", "fill": "independent"}, "legend": {"color": "independent", "fill": "independent"}}
}
